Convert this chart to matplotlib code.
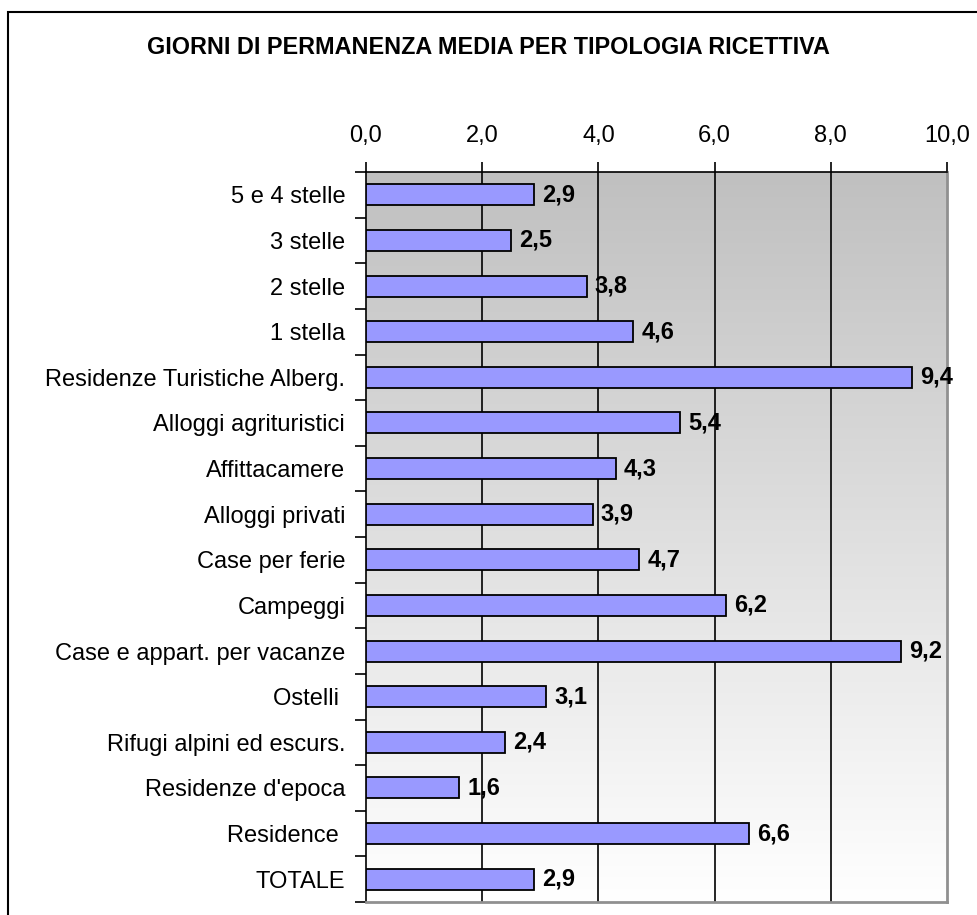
import numpy as np
import matplotlib
matplotlib.use("Agg")
from matplotlib import pyplot as plt
from matplotlib.patches import Rectangle
from matplotlib.ticker import FixedLocator, FuncFormatter

plt.rcParams['font.family'] = ['Liberation Sans', 'DejaVu Sans']

categorie = [
    "5 e 4 stelle", "3 stelle", "2 stelle", "1 stella",
    "Residenze Turistiche Alberg.", "Alloggi agrituristici", "Affittacamere",
    "Alloggi privati", "Case per ferie", "Campeggi",
    "Case e appart. per vacanze", "Ostelli ", "Rifugi alpini ed escurs.",
    "Residenze d'epoca", "Residence ", "TOTALE",
]
permanenza = [2.9, 2.5, 3.8, 4.6, 9.4, 5.4, 4.3, 3.9, 4.7, 6.2, 9.2, 3.1, 2.4, 1.6, 6.6, 2.9]
tick_x = [0, 2, 4, 6, 8, 10]

fig = plt.figure(figsize=(9.77, 9.15), dpi=100)

# cornice del grafico (tagliata a destra e in basso come nell'originale)
fig.patches.append(Rectangle((8 / 977, -0.05), 1.2, 1 - 12 / 915 + 0.05,
                             transform=fig.transFigure, fill=False,
                             edgecolor='black', linewidth=1.5))

ax = fig.add_axes([366 / 977, 1 - 902 / 915, 581 / 977, 730 / 915])

n = len(categorie)
y = np.arange(n)

# sfondo sfumato grigio -> bianco
grad = np.linspace(0, 1, 256).reshape(-1, 1)
ax.imshow(grad, extent=[0, 10, n - 0.5, -0.5], aspect='auto',
          cmap=matplotlib.colors.LinearSegmentedColormap.from_list(
              'g', ['#c0c0c0', '#ffffff']), zorder=0)

ax.barh(y, permanenza, height=0.46, color='#9999ff', edgecolor='black',
        linewidth=1.3, zorder=3)

for yi, v in zip(y, permanenza):
    ax.text(v + 0.14, yi, f"{v:.1f}".replace('.', ','), va='center', ha='left',
            fontsize=17, fontweight='bold', zorder=4)

ax.set_xlim(0, 10)
ax.set_ylim(n - 0.5, -0.5)

ax.xaxis.tick_top()
ax.set_xticks(tick_x)
ax.xaxis.set_major_formatter(FuncFormatter(lambda v, p: f"{v:.1f}".replace('.', ',')))
ax.tick_params(axis='x', direction='out', length=7, width=1.2, labelsize=17, pad=11)

ax.set_yticks(y)
ax.set_yticklabels(categorie)
ax.tick_params(axis='y', which='major', length=0, labelsize=17, pad=15)
ax.yaxis.set_minor_locator(FixedLocator(np.arange(-0.5, n, 1)))
ax.tick_params(axis='y', which='minor', direction='out', length=8, width=1.2)

for gx in tick_x[1:-1]:
    ax.axvline(gx, color='black', linewidth=1.2, zorder=1)

ax.spines['top'].set_color('black')
ax.spines['left'].set_color('black')
ax.spines['top'].set_linewidth(1.2)
ax.spines['left'].set_linewidth(1.2)
ax.spines['right'].set_color('#909090')
ax.spines['bottom'].set_color('#909090')
ax.spines['right'].set_linewidth(2)
ax.spines['bottom'].set_linewidth(2)

fig.text(488 / 977, 1 - 47 / 915, "GIORNI DI PERMANENZA MEDIA PER TIPOLOGIA RICETTIVA",
         ha='center', va='center', fontsize=16.8, fontweight='bold')

fig.savefig("out.png", dpi=100)
